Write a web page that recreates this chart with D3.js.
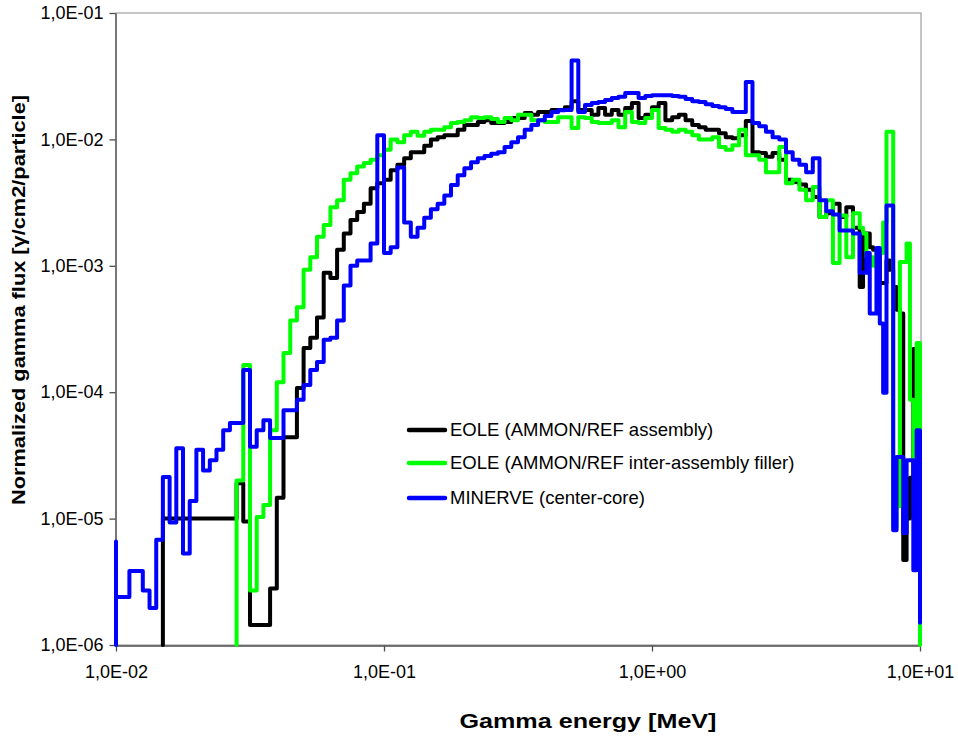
<!DOCTYPE html>
<html>
<head>
<meta charset="utf-8">
<script src="https://cdn.jsdelivr.net/npm/d3@7"></script>
<style>
  html, body { margin: 0; padding: 0; background: #ffffff; }
  svg { display: block; font-family: "Liberation Sans", Arial, sans-serif; }
</style>
</head>
<body>
<svg id="chart" width="958" height="736"></svg>
<script>
// Energy group boundaries [MeV] shared by all three spectra (finer groups above 6 MeV)
const energyEdges = [
  0.01, 0.01059, 0.01122, 0.01189, 0.01259, 0.01334, 0.01413, 0.01496, 0.01585, 0.01679,
  0.01778, 0.01884, 0.01995, 0.02113, 0.02239, 0.02371, 0.02512, 0.02661, 0.02818, 0.02985,
  0.03162, 0.0335, 0.03548, 0.03758, 0.03981, 0.04217, 0.04467, 0.04732, 0.05012, 0.05309,
  0.05623, 0.05957, 0.0631, 0.06683, 0.07079, 0.07499, 0.07943, 0.08414, 0.08913, 0.09441,
  0.1, 0.1059, 0.1122, 0.1189, 0.1259, 0.1334, 0.1413, 0.1496, 0.1585, 0.1679,
  0.1778, 0.1884, 0.1995, 0.2113, 0.2239, 0.2371, 0.2512, 0.2661, 0.2818, 0.2985,
  0.3162, 0.335, 0.3548, 0.3758, 0.3981, 0.4217, 0.4467, 0.4732, 0.5012, 0.5309,
  0.5623, 0.5957, 0.631, 0.6683, 0.7079, 0.7499, 0.7943, 0.8414, 0.8913, 0.9441,
  1, 1.059, 1.122, 1.189, 1.259, 1.334, 1.413, 1.496, 1.585, 1.679,
  1.778, 1.884, 1.995, 2.113, 2.239, 2.371, 2.512, 2.661, 2.818, 2.985,
  3.162, 3.35, 3.548, 3.758, 3.981, 4.217, 4.467, 4.732, 5.012, 5.309,
  5.623, 5.957, 6.131, 6.31, 6.494, 6.683, 6.879, 7.079, 7.286, 7.499,
  7.718, 7.943, 8.175, 8.414, 8.66, 8.913, 9.173, 9.441, 9.716, 10
];

// Normalized group fluxes [photons/cm2/particle], one value per group (null = not tallied)
const eoleAssembly = [
  null, null, null, null, null, null, null, 1.0e-5, 1.0e-5, 1.0e-5,
  1.0e-5, 1.0e-5, 1.0e-5, 1.0e-5, 1.0e-5, 1.0e-5, 1.0e-5, 1.0e-5, 1.9e-5, 9.5e-6,
  1.44e-6, 1.44e-6, 1.44e-6, 2.8e-6, 1.46e-5, 4.4e-5, 4.4e-5, 1.08e-4, 2.24e-4, 2.7e-4,
  3.9e-4, 8.8e-4, 8.0e-4, 1.34e-3, 1.8e-3, 2.3e-3, 2.67e-3, 3.1e-3, 4.1e-3, 4.5e-3,
  4.8e-3, 5.7e-3, 6.3e-3, 7.1e-3, 7.9e-3, 7.9e-3, 8.9e-3, 1.0e-2, 1.04e-2, 1.08e-2,
  1.08e-2, 1.19e-2, 1.3e-2, 1.3e-2, 1.37e-2, 1.42e-2, 1.35e-2, 1.35e-2, 1.37e-2, 1.48e-2,
  1.48e-2, 1.62e-2, 1.57e-2, 1.65e-2, 1.65e-2, 1.71e-2, 1.71e-2, 1.8e-2, 2.0e-2, 1.71e-2,
  1.71e-2, 1.57e-2, 1.77e-2, 1.57e-2, 1.71e-2, 1.57e-2, 1.77e-2, 1.94e-2, 1.48e-2, 1.57e-2,
  1.8e-2, 1.94e-2, 1.42e-2, 1.5e-2, 1.57e-2, 1.42e-2, 1.3e-2, 1.25e-2, 1.19e-2, 1.19e-2,
  1.12e-2, 1.04e-2, 1.02e-2, 1.08e-2, 1.4e-2, 7.9e-3, 7.8e-3, 7.3e-3, 7.8e-3, 6.9e-3,
  4.8e-3, 4.6e-3, 4.4e-3, 4.0e-3, 3.5e-3, 2.43e-3, 2.6e-3, 3.1e-3, 2.43e-3, 2.9e-3,
  2.0e-3, 6.8e-4, 1.8e-3, 1.8e-3, 1.4e-3, 1.34e-3, 1.34e-3, 7.3e-4, 7.3e-4, 1.1e-3,
  9.3e-4, 6.8e-4, 4.5e-4, 4.2e-4, 4.7e-6, 1.0e-5, 2.1e-5, 2.2e-4, 2.2e-4
];

const eoleFiller = [
  null, null, null, null, null, null, null, null, null, null,
  null, null, null, null, null, null, null, null, 2.0e-5, 1.64e-4,
  2.7e-6, 1.03e-5, 1.28e-5, 5.0e-5, 1.2e-4, 2.04e-4, 3.7e-4, 4.7e-4, 9.3e-4, 1.17e-3,
  1.7e-3, 2.1e-3, 2.9e-3, 3.3e-3, 4.8e-3, 5.4e-3, 6.1e-3, 6.5e-3, 6.9e-3, 7.5e-3,
  8.3e-3, 1.0e-2, 9.5e-3, 1.08e-2, 1.15e-2, 1.07e-2, 1.15e-2, 1.19e-2, 1.19e-2, 1.25e-2,
  1.35e-2, 1.37e-2, 1.42e-2, 1.5e-2, 1.48e-2, 1.5e-2, 1.45e-2, 1.37e-2, 1.48e-2, 1.42e-2,
  1.57e-2, 1.57e-2, 1.42e-2, 1.42e-2, 1.37e-2, 1.37e-2, 1.5e-2, 1.5e-2, 1.23e-2, 1.5e-2,
  1.48e-2, 1.37e-2, 1.35e-2, 1.35e-2, 1.42e-2, 1.25e-2, 1.65e-2, 1.37e-2, 1.35e-2, 1.48e-2,
  1.71e-2, 1.23e-2, 1.19e-2, 1.15e-2, 1.19e-2, 1.15e-2, 1.08e-2, 1.0e-2, 1.0e-2, 1.04e-2,
  8.7e-3, 8.3e-3, 9.0e-3, 1.19e-2, 7.5e-3, 7.5e-3, 6.9e-3, 5.5e-3, 5.5e-3, 8.7e-3,
  4.5e-3, 4.8e-3, 4.0e-3, 3.3e-3, 4.2e-3, 2.43e-3, 3.3e-3, 1.05e-3, 2.5e-3, 1.17e-3,
  2.6e-3, 2.0e-3, 1.8e-3, 1.17e-3, 1.17e-3, 1.0e-3, 1.26e-3, 1.26e-3, 2.2e-3, 1.15e-2,
  1.15e-2, 8.6e-6, 1.25e-5, 1.07e-3, 1.07e-3, 1.5e-3, 8.7e-5, 2.9e-5, 2.45e-4
];

const minerveCore = [
  2.4e-6, 2.4e-6, 3.85e-6, 3.85e-6, 2.7e-6, 1.96e-6, 6.8e-6, 2.13e-5, 9.3e-6, 3.6e-5,
  5.3e-6, 1.38e-5, 3.5e-5, 2.4e-5, 2.9e-5, 3.5e-5, 5.0e-5, 5.7e-5, 5.7e-5, 1.5e-4,
  3.7e-5, 5.0e-5, 6.0e-5, 4.35e-5, 4.35e-5, 7.2e-5, 7.2e-5, 8.7e-5, 1.14e-4, 1.5e-4,
  1.73e-4, 2.6e-4, 2.7e-4, 3.7e-4, 7.0e-4, 1.0e-3, 1.1e-3, 1.1e-3, 1.5e-3, 1.08e-2,
  1.26e-3, 1.4e-3, 6.0e-3, 2.2e-3, 1.7e-3, 2.0e-3, 2.4e-3, 2.8e-3, 3.1e-3, 3.6e-3,
  4.35e-3, 5.2e-3, 5.9e-3, 6.6e-3, 7.1e-3, 7.4e-3, 7.7e-3, 7.9e-3, 8.7e-3, 9.5e-3,
  1.04e-2, 1.19e-2, 1.3e-2, 1.42e-2, 1.53e-2, 1.65e-2, 1.7e-2, 1.71e-2, 4.2e-2, 1.65e-2,
  1.87e-2, 1.94e-2, 1.98e-2, 2.05e-2, 2.13e-2, 2.17e-2, 2.33e-2, 2.33e-2, 2.13e-2, 2.2e-2,
  2.24e-2, 2.24e-2, 2.24e-2, 2.2e-2, 2.17e-2, 2.09e-2, 2.0e-2, 1.98e-2, 1.9e-2, 1.84e-2,
  1.8e-2, 1.74e-2, 1.65e-2, 1.65e-2, 2.85e-2, 1.35e-2, 1.27e-2, 1.15e-2, 1.04e-2, 1.0e-2,
  7.9e-3, 6.9e-3, 6.3e-3, 5.5e-3, 7.1e-3, 3.3e-3, 2.7e-3, 2.55e-3, 1.9e-3, 1.9e-3,
  1.8e-3, 8.8e-4, 8.8e-4, 1.26e-3, 4.2e-4, 4.2e-4, 1.38e-3, 3.5e-4, 9.9e-5, 3.0e-3,
  3.0e-3, 8.1e-6, 3.07e-5, 3.07e-5, 7.7e-6, 2.9e-5, 2.9e-5, 3.9e-6, 5.0e-5
];

// Levels where each histogram enters at its first edge and leaves at the last edge
const entryLevels = { assembly: [1e-6], filler: [1e-6], core: [1e-6, 6.6e-6] };
const exitLevels  = { assembly: 5e-6, filler: 1e-6, core: 1.5e-6 };

const seriesNames  = ["EOLE (AMMON/REF assembly)", "EOLE (AMMON/REF inter-assembly filler)", "MINERVE (center-core)"];
const seriesKeys   = ["assembly", "filler", "core"];
const seriesColors = ["#000000", "#00ff00", "#0000ff"];

const xTickValues = [0.01, 0.1, 1, 10];
const xTickLabels = ["1,0E-02", "1,0E-01", "1,0E+00", "1,0E+01"];
const yTickValues = [1e-6, 1e-5, 1e-4, 1e-3, 1e-2, 1e-1];
const yTickLabels = ["1,0E-06", "1,0E-05", "1,0E-04", "1,0E-03", "1,0E-02", "1,0E-01"];

const seriesValues = [eoleAssembly, eoleFiller, minerveCore];

// ---- layout ----
const plot = { left: 116, right: 920, top: 13, bottom: 645 };
const svg = d3.select("#chart");

const x = d3.scaleLog().domain([0.01, 10]).range([plot.left, plot.right]);
const y = d3.scaleLog().domain([1e-6, 1e-1]).range([plot.bottom, plot.top]);

// plot frame
svg.append("rect")
  .attr("x", plot.left).attr("y", plot.top)
  .attr("width", plot.right - plot.left + 1).attr("height", plot.bottom - plot.top)
  .attr("fill", "none").attr("stroke", "#8c8c8c").attr("stroke-width", 1);

// axes
const xAxis = d3.axisBottom(x)
  .tickValues(xTickValues)
  .tickFormat((d, i) => xTickLabels[i])
  .tickSizeInner(6).tickSizeOuter(0).tickPadding(14);
const yAxis = d3.axisLeft(y)
  .tickValues(yTickValues)
  .tickFormat((d, i) => yTickLabels[i])
  .tickSizeInner(6).tickSizeOuter(0).tickPadding(6);

const gx = svg.append("g").attr("transform", `translate(0,${plot.bottom + 0.5})`).call(xAxis);
const gy = svg.append("g").attr("transform", `translate(${plot.left - 0.5},0)`).call(yAxis);
[gx, gy].forEach(g => {
  g.select(".domain").attr("stroke", "#4d4d4d").attr("stroke-width", 1.3);
  g.selectAll(".tick line").attr("stroke", "#4d4d4d").attr("stroke-width", 1.3);
  g.selectAll(".tick text")
    .attr("fill", "#000")
    .style("font-family", '"Liberation Sans", Arial, sans-serif')
    .style("font-size", "18px");
});

// step histograms
const line = d3.line().x(d => x(d[0])).y(d => y(d[1]));

function stepPoints(values, entry, exit) {
  const pts = [];
  const first = values.findIndex(v => v != null);
  entry.forEach(v => pts.push([energyEdges[first], v]));
  for (let i = first; i < values.length; i++) {
    if (values[i] == null) continue;
    pts.push([energyEdges[i], values[i]]);
    pts.push([energyEdges[i + 1], values[i]]);
  }
  pts.push([energyEdges[energyEdges.length - 1], exit]);
  return pts;
}

seriesValues.forEach((vals, s) => {
  const key = seriesKeys[s];
  svg.append("path")
    .datum(stepPoints(vals, entryLevels[key], exitLevels[key]))
    .attr("d", line)
    .attr("fill", "none")
    .attr("stroke", seriesColors[s])
    .attr("stroke-width", 4)
    .attr("stroke-linejoin", "round")
    .attr("stroke-linecap", "round");
});

// legend
const legend = svg.append("g").attr("transform", "translate(407,430)");
seriesNames.forEach((name, i) => {
  const row = legend.append("g").attr("transform", `translate(0,${[0, 33, 68][i]})`);
  row.append("line")
    .attr("x1", 2).attr("x2", 38).attr("y1", 0).attr("y2", 0)
    .attr("stroke", seriesColors[i]).attr("stroke-width", 4.5)
    .attr("stroke-linecap", "round");
  row.append("text")
    .attr("x", 43).attr("y", 0).attr("dy", "0.35em")
    .style("font-size", "18.5px").attr("fill", "#000")
    .text(name);
});

// axis titles
svg.append("text")
  .attr("x", 588).attr("y", 728)
  .attr("text-anchor", "middle")
  .style("font-size", "21px").style("font-weight", "bold")
  .attr("textLength", 257).attr("lengthAdjust", "spacingAndGlyphs")
  .text("Gamma energy [MeV]");

svg.append("text")
  .attr("transform", "translate(25,300) rotate(-90)")
  .attr("text-anchor", "middle")
  .style("font-size", "18px").style("font-weight", "bold")
  .attr("textLength", 410).attr("lengthAdjust", "spacingAndGlyphs")
  .text("Normalized gamma flux [γ/cm2/particle]");
</script>
</body>
</html>
